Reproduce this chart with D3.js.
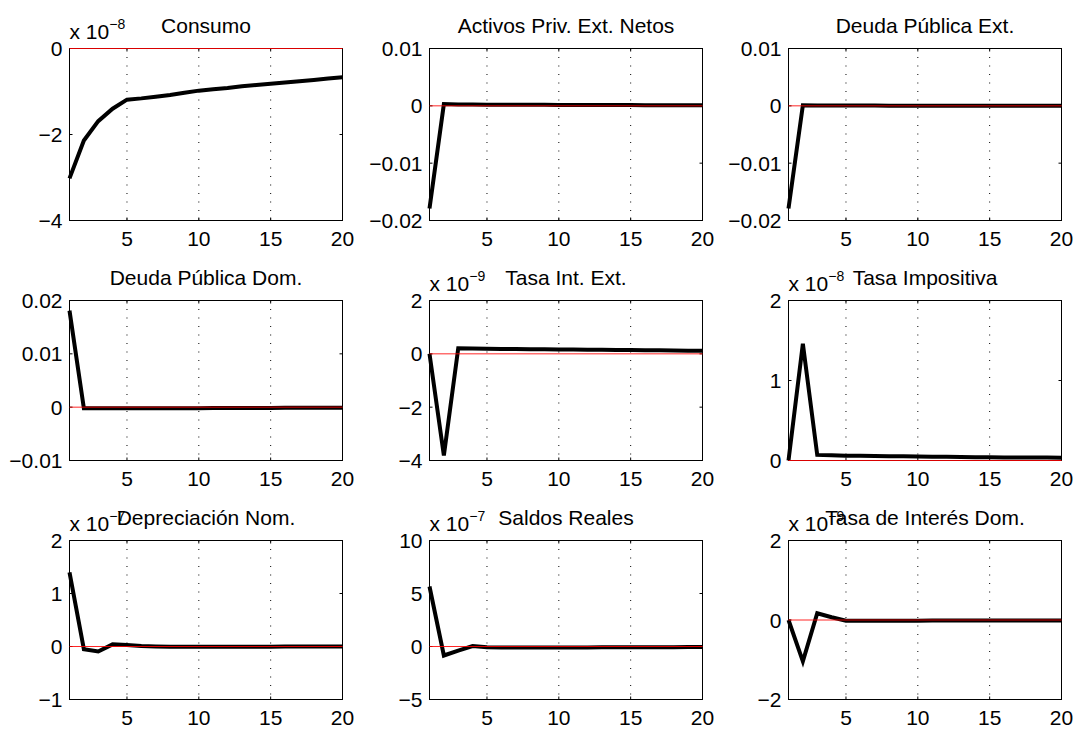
<!DOCTYPE html>
<html><head><meta charset="utf-8">
<script src="https://cdn.jsdelivr.net/npm/d3@7"></script>
<style>html,body{margin:0;padding:0;background:#fff}svg{display:block}</style>
</head><body><svg id="c" width="1077" height="730"></svg>
<script>
// ---------- data ----------
const periods = [1,2,3,4,5,6,7,8,9,10,11,12,13,14,15,16,17,18,19,20];
const titles = ["Consumo", "Activos Priv. Ext. Netos", "Deuda Pública Ext.",
                "Deuda Pública Dom.", "Tasa Int. Ext.", "Tasa Impositiva",
                "Depreciación Nom.", "Saldos Reales", "Tasa de Interés Dom."];
const exponents = [-8, null, null, null, -9, -8, -7, -7, -9];

const consumo    = [-3.02,-2.14,-1.69,-1.40,-1.19,-1.16,-1.12,-1.08,-1.03,-0.98,-0.95,-0.92,-0.88,-0.85,-0.82,-0.79,-0.76,-0.73,-0.70,-0.67];
const activos    = [-0.0179,0.0003,0.00025,0.00022,0.0002,0.0002,0.00019,0.00018,0.00017,0.00016,0.00015,0.00015,0.00014,0.00013,0.00013,0.00012,0.00012,0.00011,0.00011,0.0001];
const deudaExt   = [-0.0179,0.0001,0.00005,0.00005,0.00004,0.00004,0.00004,0.00003,0.00003,0.00003,0.00003,0.00002,0.00002,0.00002,0.00002,0.00002,0.00001,0.00001,0.00001,0.00001];
const deudaDom   = [0.0181,-0.0002,-0.0002,-0.0002,-0.0002,-0.0002,-0.0002,-0.0002,-0.00018,-0.00018,-0.00017,-0.00016,-0.00015,-0.00015,-0.00014,-0.00013,-0.00012,-0.00012,-0.00011,-0.0001];
const tasaIntExt = [0,-3.81,0.21,0.20,0.19,0.185,0.18,0.175,0.17,0.165,0.16,0.155,0.15,0.145,0.14,0.135,0.13,0.125,0.12,0.115];
const tasaImp    = [0,1.46,0.07,0.065,0.06,0.058,0.056,0.054,0.052,0.05,0.048,0.046,0.044,0.042,0.04,0.039,0.038,0.037,0.036,0.035];
const deprec     = [1.40,-0.05,-0.095,0.04,0.03,0.01,0.0,-0.005,-0.005,-0.005,-0.004,-0.004,-0.003,-0.003,-0.003,-0.002,-0.002,-0.002,-0.001,-0.001];
const saldos     = [5.66,-0.85,-0.38,0.05,-0.08,-0.1,-0.1,-0.1,-0.1,-0.1,-0.09,-0.09,-0.08,-0.08,-0.07,-0.07,-0.06,-0.06,-0.05,-0.05];
const tasaDom    = [0,-1.04,0.17,0.07,-0.02,-0.02,-0.02,-0.018,-0.017,-0.016,-0.015,-0.014,-0.013,-0.012,-0.012,-0.011,-0.011,-0.01,-0.01,-0.01];

const xTicks = [5,10,15,20];
const yTicks = [
  [-4,-2,0], [-0.02,-0.01,0,0.01], [-0.02,-0.01,0,0.01],
  [-0.01,0,0.01,0.02], [-4,-2,0,2], [0,1,2],
  [-1,0,1,2], [-5,0,5,10], [-2,0,2]
];
const series = [consumo, activos, deudaExt, deudaDom, tasaIntExt, tasaImp, deprec, saldos, tasaDom];

// ---------- layout ----------
const colLeft = [69, 429, 788], plotW = 273;
const rowTop = [48, 300, 540], rowH = [172, 160, 159];
const FONT = "'Liberation Sans', Arial, Helvetica, sans-serif";
const FS = 21, SUP = 14, TICK = 3;

const svg = d3.select("#c");
const fmt = d3.format("~g");

series.forEach((vals, i) => {
  const r = Math.floor(i / 3), c = i % 3;
  const L = colLeft[c] + 0.5, T = rowTop[r] + 0.5, H = rowH[r];
  const yt = yTicks[i];
  const x = d3.scaleLinear().domain([1, 20]).range([L, L + plotW]);
  const y = d3.scaleLinear().domain([yt[0], yt[yt.length - 1]]).range([T + H, T]);
  const g = svg.append("g");

  // grid (vertical dotted)
  g.selectAll(".grid").data(xTicks).enter().append("line")
    .attr("x1", d => x(d)).attr("x2", d => x(d))
    .attr("y1", T).attr("y2", T + H)
    .attr("stroke", "#000").attr("stroke-width", 1)
    .attr("stroke-dasharray", "1,7.5");

  // box
  g.append("rect").attr("x", L).attr("y", T).attr("width", plotW).attr("height", H)
    .attr("fill", "none").attr("stroke", "#000").attr("stroke-width", 1);

  // inside ticks
  yt.forEach(v => {
    g.append("line").attr("x1", L).attr("x2", L + TICK).attr("y1", y(v)).attr("y2", y(v)).attr("stroke", "#000");
    g.append("line").attr("x1", L + plotW).attr("x2", L + plotW - TICK).attr("y1", y(v)).attr("y2", y(v)).attr("stroke", "#000");
  });
  xTicks.forEach(v => {
    g.append("line").attr("x1", x(v)).attr("x2", x(v)).attr("y1", T + H).attr("y2", T + H - TICK).attr("stroke", "#000");
    g.append("line").attr("x1", x(v)).attr("x2", x(v)).attr("y1", T).attr("y2", T + TICK).attr("stroke", "#000");
  });

  // tick labels
  g.selectAll(".yl").data(yt).enter().append("text")
    .attr("x", L - 7).attr("y", d => y(d)).attr("dy", "0.36em")
    .attr("text-anchor", "end").attr("font-family", FONT).attr("font-size", FS)
    .text(d => fmt(d));
  g.selectAll(".xl").data(xTicks).enter().append("text")
    .attr("x", d => x(d)).attr("y", T + H + 25)
    .attr("text-anchor", "middle").attr("font-family", FONT).attr("font-size", FS)
    .text(d => d);

  // data line
  const line = d3.line().x((d, k) => x(periods[k])).y(d => y(d));
  g.append("path").datum(vals).attr("d", line)
    .attr("fill", "none").attr("stroke", "#000").attr("stroke-width", 4)
    .attr("stroke-linejoin", "miter");

  // zero line
  g.append("line").attr("x1", x(1)).attr("x2", x(20)).attr("y1", y(0)).attr("y2", y(0))
    .attr("stroke", "#ff0000").attr("stroke-width", 1).attr("stroke-opacity", 0.85);

  // title
  g.append("text").attr("x", L + plotW / 2).attr("y", T - 16)
    .attr("text-anchor", "middle").attr("font-family", FONT).attr("font-size", FS)
    .text(titles[i]);

  // exponent label
  if (exponents[i] !== null) {
    const t = g.append("text").attr("x", L).attr("y", T - 10)
      .attr("font-family", FONT).attr("font-size", FS);
    t.append("tspan").text("x 10");
    t.append("tspan").attr("dy", -10).attr("font-size", SUP).text(fmt(exponents[i]));
  }
});
</script></body></html>
